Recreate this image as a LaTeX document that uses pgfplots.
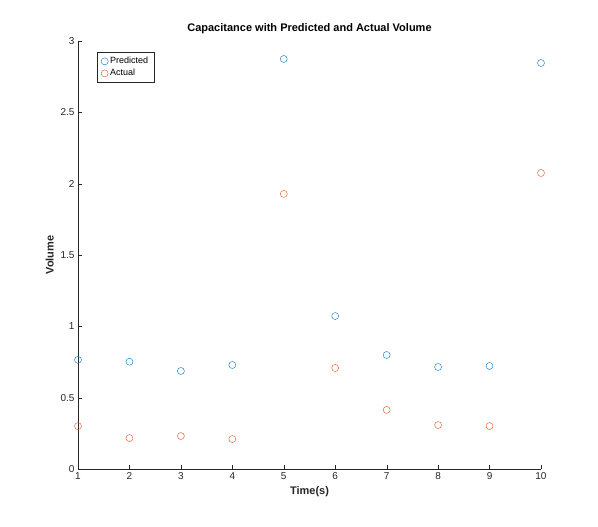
\documentclass[border=0pt]{standalone}
\usepackage{pgfplots}
\pgfplotsset{compat=1.18}
\usepackage{fontspec}
\setmainfont{Liberation Sans}
\definecolor{mblue}{rgb}{0,0.447,0.741}
\definecolor{morange}{rgb}{0.85,0.325,0.098}
\definecolor{axgray}{rgb}{0.15,0.15,0.15}
\begin{document}
\begin{tikzpicture}
\useasboundingbox (-78pt,-58pt) rectangle (520pt,469pt);
\begin{axis}[
  at={(0,0)}, anchor=south west, scale only axis,
  width=463pt, height=428pt,
  xmin=1, xmax=10, ymin=0, ymax=3,
  xtick={1,...,10}, ytick={0,0.5,1,1.5,2,2.5,3},
  yticklabels={0,0.5,1,1.5,2,2.5,3},
  axis lines=left, axis line style={-,axgray},
  tick align=inside, tick style={axgray},
  major tick length=4pt,
  /pgf/number format/assume math mode=true,
  ticklabel style={font=\fontsize{10}{12}\selectfont, text=axgray},
  xlabel={\textbf{Time(s)}}, ylabel={\textbf{Volume}},
  label style={font=\fontsize{11}{13}\selectfont, text=axgray},
  title={\textbf{Capacitance with Predicted and Actual Volume}},
  title style={font=\fontsize{11}{13}\selectfont, yshift=-2pt},
  legend style={at={(0.041,0.974)}, anchor=north west, draw=axgray,
    font=\fontsize{9}{11}\selectfont, cells={anchor=west}, row sep=0pt,
    inner xsep=4pt, inner ysep=3pt},
  legend image code/.code={\draw[mark repeat=2,mark phase=2] plot coordinates {(0cm,0cm) (0.55cm,0cm) (1.1cm,0cm)};},
  legend cell align=left,
]
\addplot[only marks, mark=o, mark size=3.5pt, color=mblue] coordinates {
(1,0.765) (2,0.752) (3,0.687) (4,0.729) (5,2.874) (6,1.072) (7,0.799) (8,0.715) (9,0.722) (10,2.846)};
\addlegendentry{Predicted\hspace{22pt}}
\addplot[only marks, mark=o, mark size=3.5pt, color=morange] coordinates {
(1,0.301) (2,0.217) (3,0.231) (4,0.210) (5,1.928) (6,0.708) (7,0.414) (8,0.308) (9,0.301) (10,2.075)};
\addlegendentry{Actual}
\end{axis}
\end{tikzpicture}
\end{document}
